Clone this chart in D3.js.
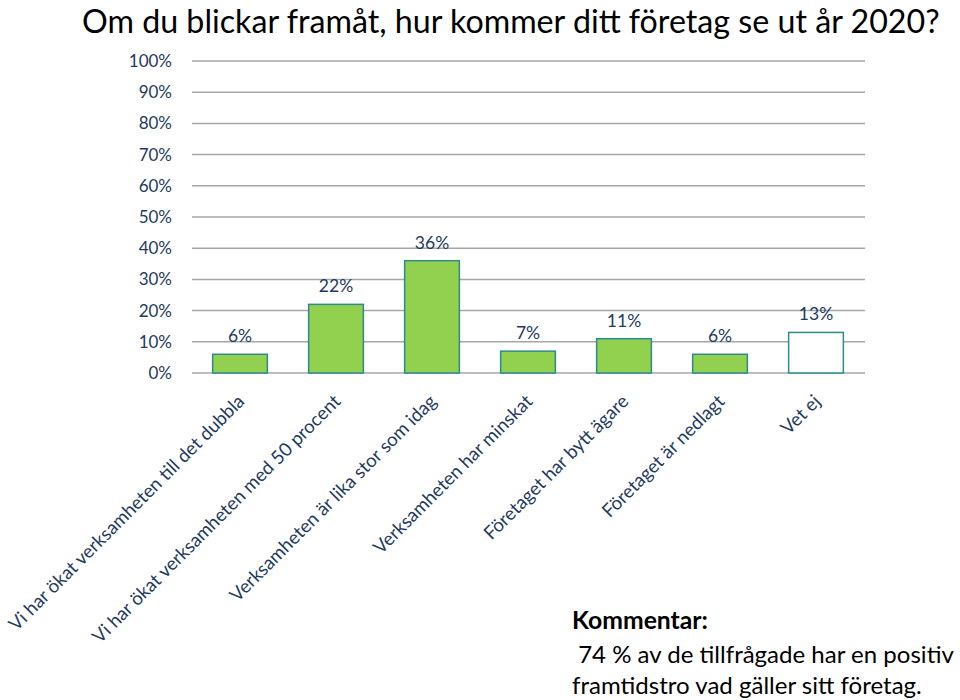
<!DOCTYPE html>
<html><head><meta charset="utf-8">
<script src="https://cdn.jsdelivr.net/npm/d3@7"></script>
<style>body{margin:0;background:#fff}svg{display:block}text{font-family:Lato,"Open Sans",sans-serif}</style>
</head><body>
<svg id="c" width="960" height="700"></svg>
<script>
const categories = ["Vi har ökat verksamheten till det dubbla","Vi har ökat verksamheten med 50 procent","Verksamheten är lika stor som idag","Verksamheten har minskat","Företaget har bytt ägare","Företaget är nedlagt","Vet ej"];
const values = [6,22,36,7,11,6,13];
const fills = ["#92d050","#92d050","#92d050","#92d050","#92d050","#92d050","#ffffff"];
const yTicks = [0,10,20,30,40,50,60,70,80,90,100];
const title = "Om du blickar framåt, hur kommer ditt företag se ut år 2020?";
const commentHead = "Kommentar:";
const commentLines = ["\u00a074 % av de tillfrågade har en positiv","framtidstro vad gäller sitt företag."];

const svg = d3.select("#c");
const x = d3.scaleBand().domain(categories).range([192,864]).paddingInner(0.43).paddingOuter(0.215);
const y = d3.scaleLinear().domain([0,100]).range([373,61]);
const navy = "#1f3a60";

function fit(sel, target){
  const n = sel.node(); const fs = +sel.attr("font-size");
  const w = n.getComputedTextLength();
  const s = w>0 ? fs*target/w : fs;
  sel.attr("font-size", s);
  return s;
}

const tt = svg.append("text").attr("x",82).attr("font-size",30).attr("fill","#000").text(title);
const ts = fit(tt, 858);
tt.attr("y", Math.max(29, ts + 1));

// grid
svg.append("g").selectAll("line").data(yTicks).join("line")
  .attr("x1",192).attr("x2",865).attr("y1",d=>y(d)).attr("y2",d=>y(d))
  .attr("stroke","#a6a6a6").attr("stroke-width",1.5);

// y axis labels
svg.append("g").selectAll("text").data(yTicks).join("text")
  .attr("x",172).attr("y",d=>y(d)).attr("dy","0.35em").attr("text-anchor","end")
  .attr("font-size",17).attr("fill",navy).text(d=>d+"%");

// bars
svg.append("g").selectAll("rect").data(values).join("rect")
  .attr("x",(d,i)=>x(categories[i])).attr("width",x.bandwidth())
  .attr("y",d=>y(d)).attr("height",d=>y(0)-y(d))
  .attr("fill",(d,i)=>fills[i]).attr("stroke","#2e8b8b").attr("stroke-width",1.5);

// value labels
svg.append("g").selectAll("text").data(values).join("text")
  .attr("x",(d,i)=>x(categories[i])+x.bandwidth()/2).attr("y",d=>y(d)-12)
  .attr("text-anchor","middle").attr("font-size",17.5).attr("fill",navy).text(d=>d+"%");

// x labels
svg.append("g").selectAll("text").data(categories).join("text")
  .attr("transform",d=>`translate(${x(d)+x.bandwidth()/2+1},${398}) rotate(-45)`)
  .attr("text-anchor","end").attr("dy","0.35em")
  .attr("font-size",18.6).attr("fill",navy).text(d=>d);

// comment
fit(svg.append("text").attr("x",572).attr("y",629).attr("font-size",24).attr("font-weight","bold").attr("fill","#000").text(commentHead), 136);
const cl = svg.append("g").selectAll("text").data(commentLines).join("text")
  .attr("x",572).attr("y",(d,i)=>663+i*31).attr("font-size",25).attr("fill","#000").text(d=>d);
const s2 = fit(d3.select(cl.nodes()[0]), 382);
const s3 = fit(d3.select(cl.nodes()[1]), 358);
cl.attr("font-size", Math.min(s2, s3));
</script>
</body></html>
